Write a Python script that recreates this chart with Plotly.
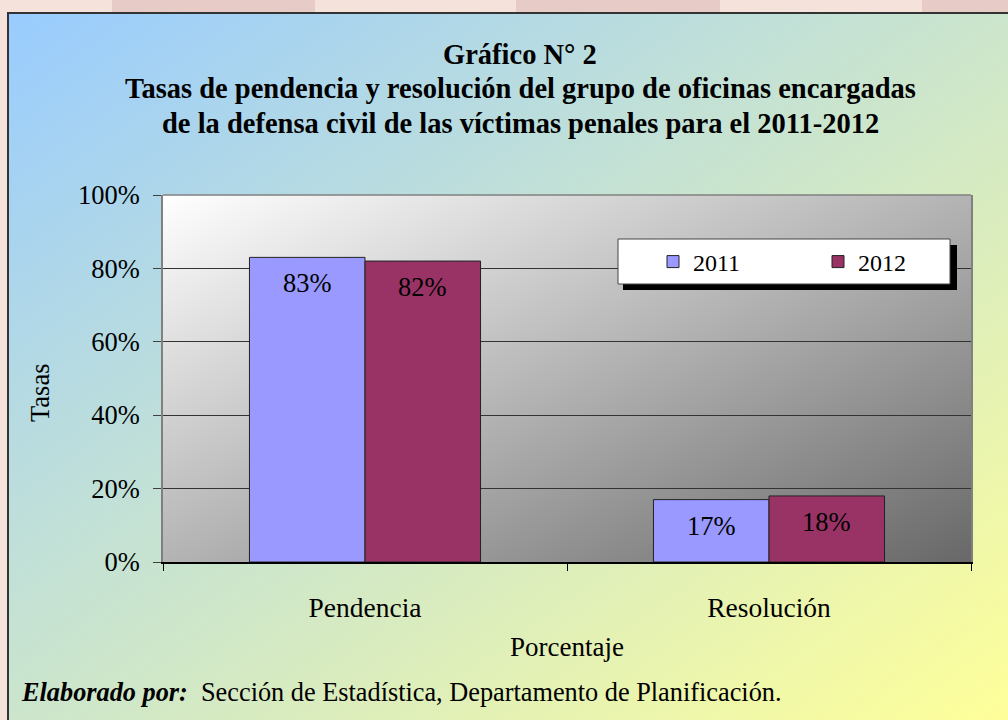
import base64
import plotly.graph_objects as go

# ---- data ----
categories = ["Pendencia", "Resolución"]
series_names = ["2011", "2012"]
values_2011 = [83, 17]
values_2012 = [82, 18]
bar_colors = ["#9999ff", "#993366"]
y_tick_vals = [0, 20, 40, 60, 80, 100]
y_tick_text = ["0%", "20%", "40%", "60%", "80%", "100%"]
title_lines = [
    "Gráfico N° 2",
    "Tasas de pendencia y resolución del grupo de oficinas encargadas",
    "de la defensa civil de las víctimas penales para el 2011-2012",
]
y_title = "Tasas"
x_title = "Porcentaje"
footer_bold = "Elaborado por:"
footer_text = "Sección de Estadística, Departamento de Planificación."

# ---- layout geometry (pixels) ----
FW, FH = 1008, 720
L, R, T, B = 163, 971, 195, 562
W, H = R - L, B - T
BARGAP = 0.428


def px(x):
    return (x - L) / W


def py(y):
    return (B - y) / H


def svg_gradient(c0, c1):
    svg = (
        '<svg xmlns="http://www.w3.org/2000/svg" width="100" height="100" '
        'viewBox="0 0 100 100" preserveAspectRatio="none">'
        '<defs><linearGradient id="g" x1="0" y1="0" x2="1" y2="1">'
        f'<stop offset="0" stop-color="{c0}"/><stop offset="1" stop-color="{c1}"/>'
        '</linearGradient></defs><rect width="100" height="100" fill="url(#g)"/></svg>'
    )
    return "data:image/svg+xml;base64," + base64.b64encode(svg.encode()).decode()


FONT = "Liberation Serif, Times New Roman, serif"

fig = go.Figure()
for name, vals, col in zip(series_names, [values_2011, values_2012], bar_colors):
    fig.add_trace(
        go.Bar(
            x=categories,
            y=vals,
            name=name,
            marker=dict(color=col, line=dict(color="#222222", width=1)),
        )
    )

# data labels
w = (1 - BARGAP) / len(series_names)
annotations = []
for si, vals in enumerate([values_2011, values_2012]):
    for ci, v in enumerate(vals):
        xpos = ci - (1 - BARGAP) / 2 + w * (si + 0.5)
        annotations.append(
            dict(
                x=xpos, y=v, xref="x", yref="y", text=f"{v}%", showarrow=False,
                yshift=-26, yanchor="middle", xanchor="center",
                font=dict(family=FONT, size=26.5, color="black"),
            )
        )

# title lines
for line, yc in zip(title_lines, [54, 89, 123]):
    annotations.append(
        dict(
            x=px(520), y=py(yc), xref="paper", yref="paper", text=f"<b>{line}</b>",
            showarrow=False, xanchor="center", yanchor="middle",
            font=dict(family=FONT, size=28.5, color="black"),
        )
    )

# y axis title
annotations.append(
    dict(
        x=px(40), y=py(393), xref="paper", yref="paper", text=y_title, textangle=-90,
        showarrow=False, xanchor="center", yanchor="middle",
        font=dict(family=FONT, size=26.5, color="black"),
    )
)
# x axis title
annotations.append(
    dict(
        x=px(567), y=py(647), xref="paper", yref="paper", text=x_title,
        showarrow=False, xanchor="center", yanchor="middle",
        font=dict(family=FONT, size=27, color="black"),
    )
)
# footer
annotations.append(
    dict(
        x=px(19), y=py(692), xref="paper", yref="paper",
        text=f"<b><i>{footer_bold}</i></b>  {footer_text}",
        showarrow=False, xanchor="left", yanchor="middle",
        font=dict(family=FONT, size=26.3, color="black"),
    )
)

images = [
    dict(
        source=svg_gradient("#99ccff", "#ffff99"), xref="paper", yref="paper",
        x=px(8), y=py(13), sizex=(1012 - 8) / W, sizey=(725 - 13) / H,
        sizing="stretch", xanchor="left", yanchor="top", layer="below",
    ),
    dict(
        source=svg_gradient("#ffffff", "#686868"), xref="paper", yref="paper",
        x=0, y=1, sizex=1, sizey=1,
        sizing="stretch", xanchor="left", yanchor="top", layer="below",
    ),
]

shapes = []
# darker pink bands of the page background above the chart box
for x0, x1 in [(112, 315), (516, 720), (922, 1010)]:
    shapes.append(
        dict(type="rect", xref="paper", yref="paper", x0=px(x0), x1=px(x1), y0=py(13), y1=py(-2),
             line=dict(width=0), fillcolor="#e7cbc6", layer="below")
    )
shapes += [
    # chart box border
    dict(type="rect", xref="paper", yref="paper", x0=px(8), x1=px(1012), y0=py(725), y1=py(13),
         line=dict(color="#333333", width=2), fillcolor="rgba(0,0,0,0)", layer="below"),
    # plot area top border
    dict(type="line", xref="paper", yref="paper", x0=0, x1=1, y0=1, y1=1,
         line=dict(color="#808080", width=1.5), layer="above"),
    # legend shadow
    dict(type="rect", xref="paper", yref="paper", x0=px(623), x1=px(957), y0=py(290), y1=py(245),
         line=dict(width=0), fillcolor="black", layer="above"),
    # legend box
    dict(type="rect", xref="paper", yref="paper", x0=px(618), x1=px(950), y0=py(284), y1=py(239),
         line=dict(color="#444444", width=1), fillcolor="white", layer="above"),
]

fig.update_layout(
    width=FW, height=FH,
    margin=dict(l=L, r=FW - R, t=T, b=FH - B, pad=0),
    paper_bgcolor="#f5e2da",
    plot_bgcolor="rgba(0,0,0,0)",
    barmode="group", bargap=BARGAP, bargroupgap=0,
    font=dict(family=FONT, color="black"),
    showlegend=True,
    legend=dict(
        orientation="h", x=px(653), y=py(262), xanchor="left", yanchor="middle",
        bgcolor="rgba(0,0,0,0)", borderwidth=0,
        font=dict(family=FONT, size=24, color="black"),
        entrywidth=120, entrywidthmode="pixels",
    ),
    xaxis=dict(
        showline=True, linecolor="black", linewidth=1.5,
        ticks="outside", ticklen=7, tickcolor="black", tickson="boundaries",
        tickfont=dict(family=FONT, size=27.5, color="black"),
        ticklabelstandoff=20, showgrid=False,
    ),
    yaxis=dict(
        range=[0, 100], tickmode="array", tickvals=y_tick_vals, ticktext=y_tick_text,
        showline=True, mirror=True, linecolor="#808080", linewidth=1.5,
        ticks="outside", ticklen=8, tickcolor="#404040",
        tickfont=dict(family=FONT, size=26.5, color="black"),
        ticklabelstandoff=8,
        showgrid=True, gridcolor="#333333", gridwidth=1.2, zeroline=False,
    ),
    annotations=annotations,
    images=images,
    shapes=shapes,
)

fig.write_html(
    "out.html",
    config={"displayModeBar": False},
    post_script="document.body.style.margin='0';",
)
